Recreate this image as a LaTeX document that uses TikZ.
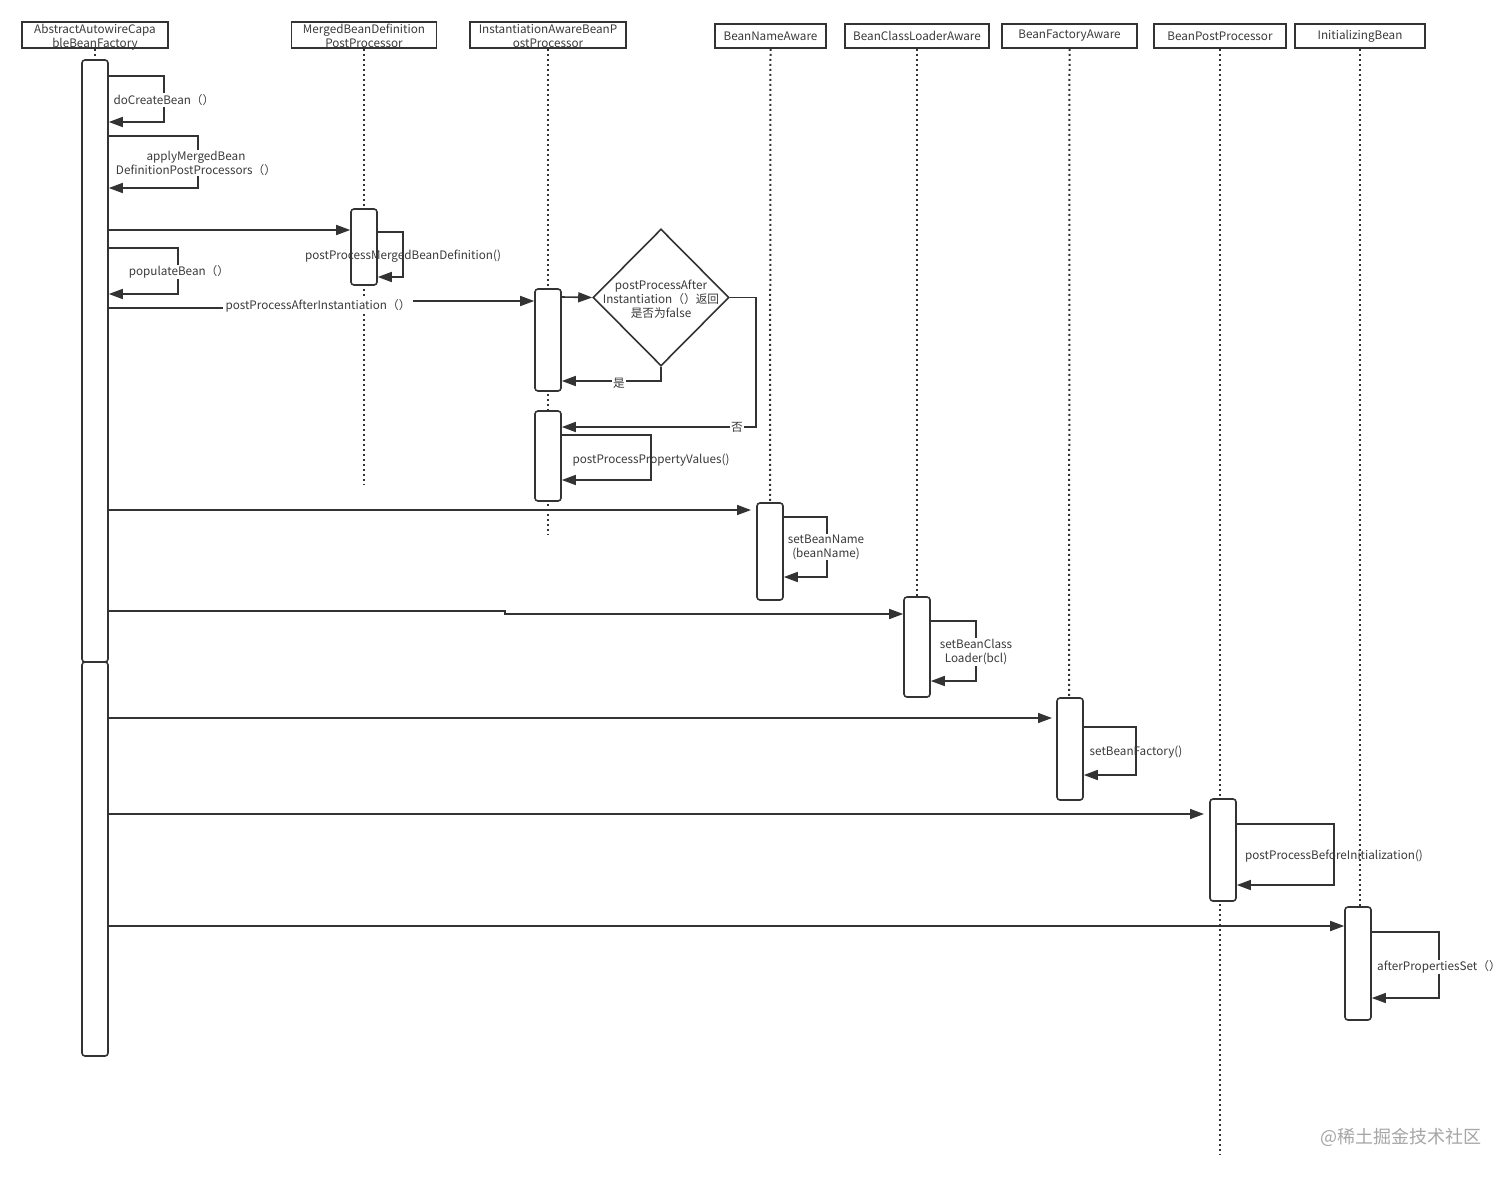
\documentclass[tikz,border=0pt]{standalone}
\usepackage{fontspec}
\setmainfont{Noto Sans CJK SC}
\usetikzlibrary{arrows.meta,shapes.geometric}
\definecolor{ln}{HTML}{333333}
\definecolor{tx}{HTML}{3A3A3A}
\begin{document}
\begin{tikzpicture}[x=1pt,y=-1pt,
  every node/.style={font=\fontsize{11.7}{14}\selectfont, text=tx},
  hdr/.style={draw=ln, line width=1.6pt, fill=white, minimum height=26pt, inner sep=0pt, align=center},
  life/.style={draw=ln, line width=2pt, dash pattern=on 2pt off 3pt},
  act/.style={draw=ln, line width=1.6pt, fill=white, rounded corners=3pt, minimum width=26pt, inner sep=0pt},
  msg/.style={draw=ln, line width=1.6pt, -{Triangle[length=14pt,width=10pt]}},
  lbl/.style={fill=white, inner sep=1pt, align=center},
]
\useasboundingbox (0,0) rectangle (1512,1178);
\fill[white] (0,0) rectangle (1512,1178);

% headers
\node[hdr, minimum width=146pt] (hA) at (95,35) {};
\node[align=center] at (95,37) {AbstractAutowireCapa\\bleBeanFactory};
\node[hdr, minimum width=145pt] (hM) at (364,35) {};
\node[align=center] at (364,36) {MergedBeanDefinition\\PostProcessor};
\node[hdr, minimum width=156pt] (hI) at (548,35) {};
\node[align=center] at (548,36) {InstantiationAwareBeanP\\ostProcessor};
\node[hdr, minimum width=111pt, minimum height=24pt] (hN) at (770.5,36) {BeanNameAware};
\node[hdr, minimum width=144pt, minimum height=24pt] (hC) at (917,36) {BeanClassLoaderAware};
\node[hdr, minimum width=135pt, minimum height=24pt] (hF) at (1069.5,36) {BeanFactoryAware};
\node[hdr, minimum width=132pt, minimum height=24pt] (hP) at (1220,36) {BeanPostProcessor};
\node[hdr, minimum width=130pt, minimum height=24pt] (hB) at (1360,36) {InitializingBean};

% lifelines
\coordinate (eA) at (95,60);
\coordinate (eM) at (364,485);
\coordinate (eI) at (548,535);
\coordinate (eN) at (770,505);
\coordinate (eC) at (917,600);
\coordinate (eF) at (1069,803);
\coordinate (eP) at (1220,1155);
\coordinate (eB) at (1360,1023);
\draw[life] (hA.south) -- (eA);
\draw[life] (hM.south) -- (eM);
\draw[life] (hI.south) -- (eI);
\draw[life] (hN.south) -- (eN);
\draw[life] (hC.south) -- (eC);
\draw[life] (hF.south) -- (eF);
\draw[life] (hP.south) -- (eP);
\draw[life] (hB.south) -- (eB);

% activations
\node[act, minimum height=602pt] (aA) at (95,361) {};
\node[act, minimum height=394pt] (aA2) at (95,859) {};
\node[act, minimum height=76pt] (aM) at (364,247) {};
\node[act, minimum height=102pt] (aI) at (548,340) {};
\node[act, minimum height=90pt] (aI2) at (548,456) {};
\node[act, minimum height=97pt] (aN) at (770,551.5) {};
\node[act, minimum height=100pt] (aC) at (917,647) {};
\node[act, minimum height=102pt] (aF) at (1070,749) {};
\node[act, minimum height=102pt] (aP) at (1223,850) {};
\node[act, minimum height=113pt] (aB) at (1358,963.5) {};

% self calls on A
\draw[msg] (aA.east |- 0,76) -| (164,122) -- (aA.east |- 0,122);
\node[lbl] at (164,100) {doCreateBean（）};
\draw[msg] (aA.east |- 0,136) -| (198,188) -- (aA.east |- 0,188);
\node[lbl] at (196,163) {applyMergedBean\\DefinitionPostProcessors（）};

% to M
\draw[msg] (aA.east |- 0,230) -- (aM.west |- 0,230);
\draw[msg] (aM.east |- 0,232) -| (403,277) -- (aM.east |- 0,277);
\node[lbl, fill=none] at (403,256) {postProcessMergedBeanDefinition()};

% populateBean
\draw[msg] (aA.east |- 0,248) -| (178,294) -- (aA.east |- 0,294);
\node[lbl] at (179,272) {populateBean（）};

% postProcessAfterInstantiation
\draw[msg] (aA.east |- 0,308) -- (318,308) -- (318,301) -- (aI.west |- 0,301);
\node[lbl, inner xsep=3pt] at (318,306) {postProcessAfterInstantiation（）};

% diamond
\node[draw=ln, line width=1.6pt, shape=diamond, minimum width=136pt, minimum height=137pt, inner sep=0pt, align=center] (dg) at (661,297.5) {};
\node[align=center] at (661,299) {postProcessAfter\\Instantiation（）返回\\是否为false};
\draw[msg] (aI.east |- 0,297) -- (dg.west);
\draw[msg] (dg.south) |- (aI.east |- 0,381);
\node[lbl] at (619,383) {是};
\draw[msg] (dg.east) -| (756,427) -- (aI2.east |- 0,427);
\node[lbl] at (737,427) {否};

% postProcessPropertyValues
\draw[msg] (aI2.east |- 0,435) -| (651,480) -- (aI2.east |- 0,480);
\node[lbl, fill=none] at (651,460) {postProcessPropertyValues()};

% BeanNameAware
\draw[msg] (aA.east |- 0,510) -- (751,510);
\draw[msg] (aN.east |- 0,517) -| (827,577) -- (aN.east |- 0,577);
\node[lbl] at (826,547) {setBeanName\\(beanName)};

% BeanClassLoaderAware
\draw[msg] (aA.east |- 0,611) -- (505,611) -- (505,614) -- (aC.west |- 0,614);
\draw[msg] (aC.east |- 0,621) -| (976,681) -- (aC.east |- 0,681);
\node[lbl] at (976,652) {setBeanClass\\Loader(bcl)};

% BeanFactoryAware
\draw[msg] (aA2.east |- 0,718) -- (1052,718);
\draw[msg] (aF.east |- 0,727) -| (1136,775) -- (aF.east |- 0,775);
\node[lbl, fill=none] at (1136,752) {setBeanFactory()};

% BeanPostProcessor
\draw[msg] (aA2.east |- 0,814) -- (1204,814);
\draw[msg] (aP.east |- 0,824) -| (1334,885) -- (aP.east |- 0,885);
\node[lbl, fill=none] at (1334,856) {postProcessBeforeInitialization()};

% InitializingBean
\draw[msg] (aA2.east |- 0,926) -- (aB.west |- 0,926);
\draw[msg] (aB.east |- 0,932) -| (1439,998) -- (aB.east |- 0,998);
\node[lbl] at (1439,967) {afterPropertiesSet（）};

% watermark
\node[font=\fontsize{18}{20}\selectfont, text=black!35] at (1401,1137) {@稀土掘金技术社区};
\end{tikzpicture}
\end{document}
